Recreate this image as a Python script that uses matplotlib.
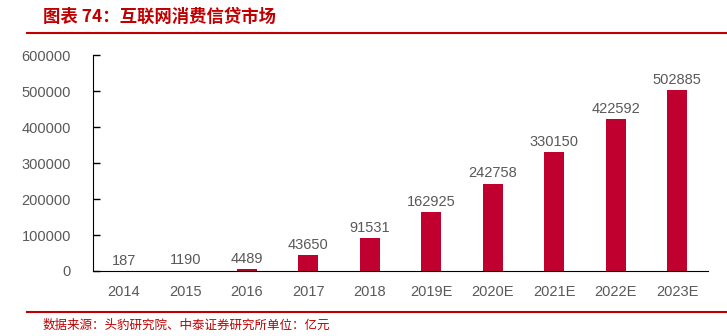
import matplotlib.pyplot as plt
import numpy as np

plt.rcParams['font.family'] = ['Liberation Sans', 'Noto Sans CJK SC', 'DejaVu Sans']

# 数据
years = ['2014', '2015', '2016', '2017', '2018', '2019E', '2020E', '2021E', '2022E', '2023E']
market = [187, 1190, 4489, 43650, 91531, 162925, 242758, 330150, 422592, 502885]
yticks = [0, 100000, 200000, 300000, 400000, 500000, 600000]

red = '#C0002F'
grey = '#595959'
title_red = '#C00000'

fig = plt.figure(figsize=(7.27, 3.36), dpi=100)
ax = fig.add_axes([0.128, 0.1935, 0.846, 0.6425])

x = np.arange(len(years))
ax.bar(x, market, width=0.33, color=red)
for xi, v in zip(x, market):
    ax.text(xi, v + 9000, f"{v}", ha='center', va='bottom', fontsize=10.5, color=grey)

ax.set_xlim(-0.5, len(years) - 0.5)
ax.set_ylim(0, 600000)
ax.set_xticks(x)
ax.set_xticklabels(years)
ax.set_yticks(yticks)
ax.set_yticklabels([str(t) for t in yticks])
ax.tick_params(axis='x', length=0, pad=10, labelsize=10.5, labelcolor=grey)
ax.tick_params(axis='y', direction='in', length=5, width=1, pad=16, labelsize=10.5, labelcolor=grey)

for s in ['top', 'right']:
    ax.spines[s].set_visible(False)
ax.spines['left'].set_color('black')
ax.spines['bottom'].set_color('black')

# 标题、分隔线和来源
fig.text(43 / 727, 1 - 17 / 336, '图表 74：互联网消费信贷市场', fontsize=12.5, fontweight='bold',
         color=title_red, va='center', ha='left',
         family=['Noto Sans CJK SC', 'DejaVu Sans'])
fig.add_artist(plt.Line2D([27 / 727, 1], [1 - 33 / 336] * 2, color=title_red, lw=1.5))
fig.add_artist(plt.Line2D([27 / 727, 1], [1 - 312 / 336] * 2, color=title_red, lw=1.5))
fig.text(43 / 727, 1 - 325 / 336, '数据来源：头豹研究院、中泰证券研究所单位：亿元', fontsize=9,
         color=title_red, va='center', ha='left',
         family=['Noto Sans CJK SC', 'DejaVu Sans'])

fig.savefig('out.png', dpi=100)
